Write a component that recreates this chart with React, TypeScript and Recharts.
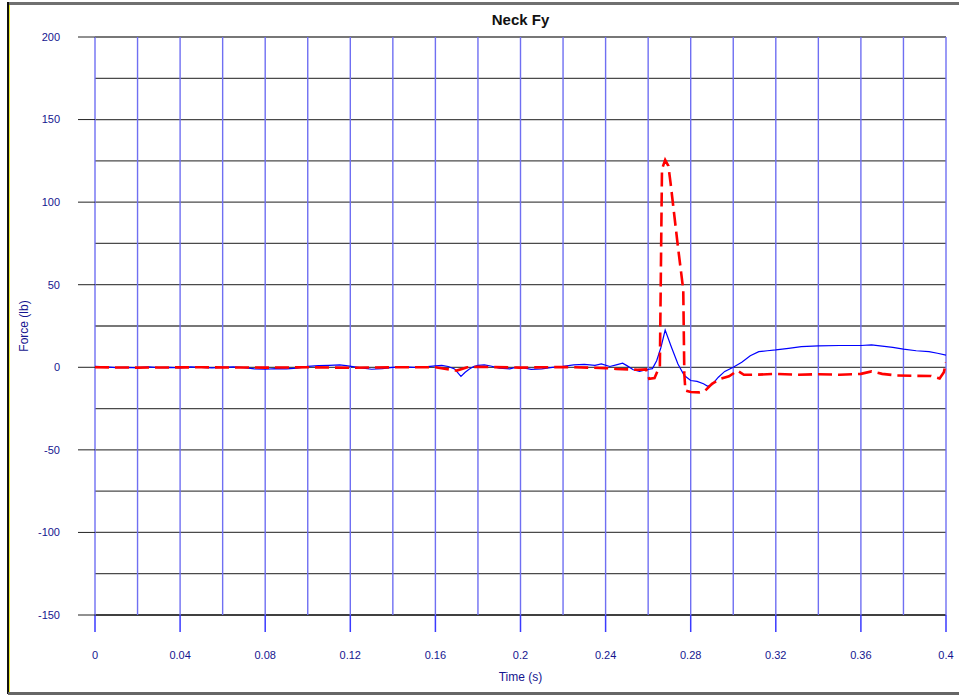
import { LineChart, Line, XAxis, YAxis, CartesianGrid } from "recharts";

// time (s) and force (lb)
const blueTime = [
    0, 0.005, 0.01, 0.015, 0.02, 0.025, 0.03, 0.035, 0.04, 0.045, 0.05, 0.055, 0.06, 0.065, 0.07,
    0.075, 0.08, 0.085, 0.09, 0.095, 0.1, 0.105, 0.11, 0.115, 0.118, 0.122, 0.126, 0.13, 0.135, 0.14,
    0.145, 0.15, 0.155, 0.16, 0.163, 0.166, 0.169, 0.172, 0.174, 0.176, 0.178, 0.18, 0.183, 0.186,
    0.19, 0.195, 0.198, 0.202, 0.205, 0.21, 0.215, 0.22, 0.225, 0.23, 0.235, 0.238, 0.242, 0.245,
    0.248, 0.25, 0.253, 0.256, 0.259, 0.262, 0.264, 0.266, 0.268, 0.271, 0.274, 0.277, 0.28, 0.283,
    0.286, 0.288, 0.29, 0.293, 0.296, 0.3, 0.304, 0.308, 0.312, 0.316, 0.32, 0.326, 0.332, 0.34,
    0.35, 0.36, 0.365, 0.37, 0.375, 0.38, 0.386, 0.392, 0.396, 0.4,
];
const blueForce = [
    0.5, 0.2, -0.2, 0, -0.3, 0.3, -0.2, 0, -0.3, 0.2, 0, -0.4, 0, 0.3, -0.2,
    -1, -1.2, -0.8, -1, -0.5, 0.5, 1, 1.2, 1.5, 1, 0.2, -0.5, -1.2, -0.8, 0,
    0.3, 0, 0.2, 0.8, 1.2, 0.5, -1, -5.5, -3, -1, 0.5, 1.2, 1.5, 0.8,
    -0.5, -1, 0, -0.5, -1.3, -1, 0, 0.5, 1.5, 1.8, 1.2, 2, 0.5, 1.5,
    2.5, 1, -1.5, -2.5, -1.5, -0.8, 4, 12, 22.5, 12, 2, -5, -8, -8.5,
    -10, -11.5, -10.5, -6, -2.5, 0, 3, 7, 9.5, 10, 10.5, 11.5, 12.5, 13,
    13.2, 13.2, 13.6, 12.8, 12, 11, 10, 9.5, 8.5, 7.3,
];

const redTime = [
    0, 0.02, 0.05, 0.08, 0.1, 0.12, 0.14, 0.16, 0.165, 0.17, 0.175, 0.18, 0.2, 0.22, 0.24, 0.245,
    0.255, 0.259, 0.2605, 0.263, 0.2645, 0.2655, 0.2665, 0.268, 0.2695, 0.2705, 0.274, 0.2765,
    0.277, 0.2775, 0.28, 0.284, 0.2865, 0.29, 0.294, 0.298, 0.302, 0.305, 0.31, 0.32, 0.33, 0.34,
    0.35, 0.36, 0.365, 0.37, 0.377, 0.385, 0.393, 0.397, 0.399, 0.4,
];
const redForce = [
    0, -0.2, 0, -0.2, 0, -0.3, 0, 0, -1, -2, 0, 0.3, -0.2, 0.2, -0.5, -1,
    -1.5, -1.3, -7, -6.5, -2, 0, 120, 125.5, 122, 112, 73, 47,
    -4, -14, -15, -15.2, -14.5, -10, -7, -5.5, -2, -4.5, -4.5, -4, -4.5, -4.2,
    -4.5, -4, -2.5, -4, -5, -5.2, -5.3, -6.8, -3, 3,
];

const xTicks = [0, 0.04, 0.08, 0.12, 0.16, 0.2, 0.24, 0.28, 0.32, 0.36, 0.4];
const xGrid = [0, 0.02, 0.04, 0.06, 0.08, 0.1, 0.12, 0.14, 0.16, 0.18, 0.2, 0.22, 0.24, 0.26, 0.28, 0.3, 0.32, 0.34, 0.36, 0.38, 0.4];
const yTicks = [-150, -100, -50, 0, 50, 100, 150, 200];
const yGrid = [-125, -100, -75, -50, -25, 0, 25, 50, 75, 100, 125, 150, 175, 200];
const yBase = [-150];

const blueData = blueTime.map((t, i) => ({ t, v: blueForce[i] }));
const redData = redTime.map((t, i) => ({ t, v: redForce[i] }));

const font = "'Liberation Sans', Arial, sans-serif";
const tickStyle = { fontSize: 11, fill: "#15158f", fontFamily: font };

export default function App() {
    return (
        <div
            style={{
                position: "absolute",
                left: 0,
                top: 0,
                width: 959,
                height: 696,
                background: "#fff",
                fontFamily: font,
                overflow: "hidden",
            }}
        >
            {/* frame */}
            <div style={{ position: "absolute", left: 8, top: 2, right: 0, height: 3, background: "#707070" }} />
            <div style={{ position: "absolute", left: 7, top: 2, bottom: 2, width: 2, background: "#111" }} />
            <div style={{ position: "absolute", left: 9, top: 5, bottom: 2, width: 1, background: "#e8e830" }} />
            <div style={{ position: "absolute", left: 8, right: 0, bottom: 1, height: 3, background: "#666" }} />

            <div
                style={{
                    position: "absolute",
                    left: 95,
                    width: 851,
                    top: 11,
                    textAlign: "center",
                    fontWeight: "bold",
                    fontSize: 15,
                    color: "#111",
                }}
            >
                Neck Fy
            </div>

            <LineChart
                width={959}
                height={696}
                margin={{ top: 37, right: 13, bottom: 0, left: 0 }}
                style={{ position: "absolute", left: 0, top: 0 }}
            >
                <CartesianGrid
                    vertical={false}
                    horizontalValues={yGrid}
                    stroke="#4a4a4a"
                    strokeWidth={1.3}
                />
                <CartesianGrid
                    vertical={false}
                    horizontalValues={yBase}
                    stroke="#000"
                    strokeWidth={1.3}
                />
                <CartesianGrid
                    horizontal={false}
                    verticalValues={xGrid}
                    stroke="#6f6ff2"
                    strokeWidth={1.4}
                />
                <XAxis
                    dataKey="t"
                    type="number"
                    domain={[0, 0.4]}
                    ticks={xTicks}
                    tickFormatter={(t: number) => String(Number(t.toFixed(2)))}
                    allowDataOverflow
                    axisLine={false}
                    tickSize={17}
                    tickMargin={19}
                    tickLine={{ stroke: "#3a3aff", strokeWidth: 1.5 }}
                    tick={tickStyle}
                    height={81}
                    label={{
                        value: "Time (s)",
                        position: "insideBottom",
                        offset: 15,
                        style: { fontSize: 12, fill: "#15158f", fontFamily: font },
                    }}
                />
                <YAxis
                    type="number"
                    domain={[-150, 200]}
                    ticks={yTicks}
                    allowDataOverflow
                    axisLine={false}
                    tickSize={17}
                    tickMargin={18}
                    tickLine={{ stroke: "#222" }}
                    tick={tickStyle}
                    width={95}
                    label={{
                        value: "Force (lb)",
                        angle: -90,
                        position: "insideLeft",
                        offset: 24,
                        style: { fontSize: 12, fill: "#15158f", fontFamily: font, textAnchor: "middle" },
                    }}
                />
                <Line
                    data={blueData}
                    dataKey="v"
                    type="linear"
                    stroke="#0000ff"
                    strokeWidth={1.2}
                    dot={false}
                    isAnimationActive={false}
                />
                <Line
                    data={redData}
                    dataKey="v"
                    type="linear"
                    stroke="#ff0000"
                    strokeWidth={2.6}
                    strokeDasharray="14 6"
                    dot={false}
                    isAnimationActive={false}
                />
            </LineChart>
        </div>
    );
}
